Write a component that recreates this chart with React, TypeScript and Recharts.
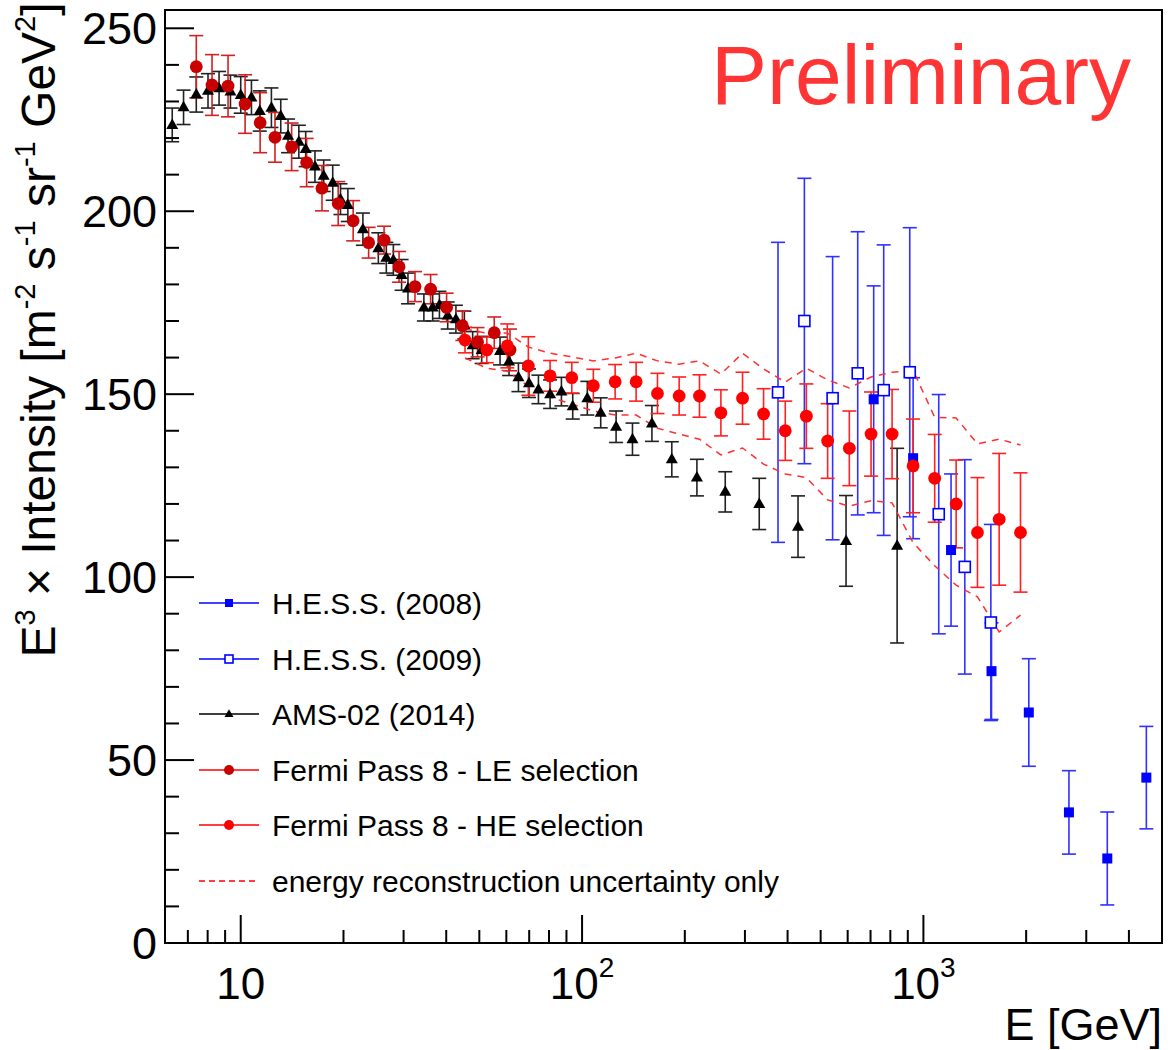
import React from 'react'
import { ComposedChart, Scatter, XAxis, YAxis, ErrorBar, ReferenceArea, Legend } from 'recharts'

/**
 * Electron + positron spectrum, E^3 x intensity vs energy (ROOT-style plot).
 * Log energy axis, inward ticks, framed plot area.
 */

const W = 1173
const H = 1050
const FONT = '"Liberation Sans", Arial, Helvetica, sans-serif'

// H.E.S.S. (2008) - filled squares
const hess08Energy = [715, 933, 1205, 1583, 2036, 2669, 3457, 4499]
const hess08Value = [148.6, 132.5, 107.4, 74.3, 63.0, 35.7, 23.1, 45.2]
const hess08Error = [31, 22, 20.8, 13.2, 14.7, 11.4, 12.7, 14]

// H.E.S.S. (2009) - open squares
const hess09Energy = [375, 448, 542, 642, 765, 912, 1109, 1322, 1576]
const hess09Value = [150.5, 170.0, 148.9, 155.7, 151.1, 156.0, 117.2, 102.8, 87.6]
const hess09Error = [41, 39, 38.7, 38.7, 39.7, 39.5, 32.7, 29.3, 26.8]

// AMS-02 (2014) - triangles
const amsEnergy = [
  6.3, 6.8, 7.41, 8.02, 8.64, 9.33, 10.0, 10.75, 11.37, 12.3, 13.1, 13.76, 14.8, 15.5, 16.5, 17.5,
  18.6, 19.6, 20.6, 22.8, 25.3, 26.7, 28.0, 29.6, 30.9, 34.4, 36.5, 38.2, 40.4, 42.7, 45.2, 47.8,
  50.8, 57.5, 61.1, 65.1, 69.9, 74.5, 80.6, 87.0, 93.9, 103.6, 113.4, 125.8, 140.5, 160.2, 183.2,
  217.0, 262.7, 330.4, 429.2, 593.4, 837.5,
]
const amsValue = [
  223.6, 228.4, 231.9, 232.9, 233.6, 232.7, 231.8, 231.1, 227.4, 228.3, 226.0, 220.6, 219.0, 217.0,
  212.2, 209.7, 207.8, 203.3, 201.7, 195.1, 189.9, 187.3, 186.7, 182.6, 178.9, 173.7, 173.7, 174.4,
  171.5, 170.5, 168.9, 163.4, 162.1, 161.8, 158.9, 154.6, 153.0, 151.3, 150.0, 150.7, 146.7, 148.9,
  144.9, 141.1, 137.7, 142.0, 132.2, 127.2, 123.3, 120.0, 113.8, 109.9, 108.6,
]
const amsError = [
  4.6, 4.7, 4.8, 4.7, 4.6, 4.5, 5.0, 4.7, 5.5, 5.4, 4.6, 4.6, 4.5, 4.8, 4.3, 4.3, 4.8, 4.2, 4.5,
  4.4, 4.2, 4.2, 4.2, 4.2, 4.2, 3.7, 3.7, 3.7, 3.7, 3.8, 3.8, 3.7, 3.7, 3.8, 3.8, 3.9, 3.9, 3.9,
  3.9, 3.9, 3.5, 4.6, 4.1, 4.3, 4.4, 4.9, 4.8, 5.0, 5.5, 7.0, 8.4, 12.4, 26.6,
]

// Fermi Pass 8 - LE selection
const leEnergy = [
  7.41, 8.24, 9.18, 10.3, 11.4, 12.6, 14.1, 15.6, 17.3, 19.3, 21.35, 23.7, 26.3, 29.1, 32.4, 36.0,
  40.1, 44.6, 49.4, 55.3, 61.5,
]
const leValue = [
  239.5, 234.5, 234.2, 229.3, 224.2, 220.2, 217.6, 213.3, 206.3, 202.1, 197.4, 191.4, 192.1, 184.8,
  179.4, 178.7, 173.7, 168.7, 164.2, 166.8, 162.1,
]
const leError = [
  8.5, 8.3, 8.4, 8.0, 8.2, 6.8, 6.5, 6.6, 6.2, 6.0, 5.5, 4.2, 3.8, 4.2, 4.1, 4.0, 3.9, 4.0, 4.0,
  4.3, 5.7,
]

// Fermi Pass 8 - HE selection
const heEnergy = [
  45.4, 52.6, 60.4, 69.6, 80.6, 93.3, 107.9, 125.0, 144.0, 166.3, 192.5, 220.8, 255.1, 295.2, 340.2,
  393.8, 454.0, 524.1, 606.7, 702.5, 809.5, 932.7, 1079, 1247, 1440, 1667, 1925,
]
const heValue = [
  164.8, 162.1, 163.2, 157.7, 155.0, 154.5, 152.3, 153.4, 153.4, 150.2, 149.5, 149.5, 144.9, 148.9,
  144.6, 140.0, 144.0, 137.2, 135.2, 139.1, 139.1, 130.4, 127.0, 120.0, 112.2, 115.8, 112.2,
]
const heError = [
  3.5, 3.5, 6.0, 8.0, 4.2, 4.2, 4.5, 4.7, 5.3, 5.5, 5.2, 5.8, 6.3, 7.1, 6.9, 8.1, 8.8, 10.2, 10.2,
  11.5, 12.2, 12.8, 12.0, 12.0, 15.0, 18.0, 16.3,
]

// energy reconstruction uncertainty band (on HE energies)
const bandUpper = [
  167.8, 166.7, 166.7, 162.9, 161.2, 160.2, 159.1, 159.9, 161.2, 159.1, 158.2, 159.1, 155.5, 161.2,
  156.9, 153.3, 157.1, 153.9, 151.7, 154.7, 156.0, 156.5, 143.7, 143.5, 136.4, 137.7, 136.1,
]
const bandLower = [
  159.9, 157.1, 156.3, 152.2, 149.2, 147.3, 145.4, 144.3, 144.3, 140.7, 139.1, 137.7, 133.4, 135.3,
  130.9, 128.2, 127.2, 121.1, 119.4, 120.9, 120.3, 109.4, 103.1, 97.8, 94.6, 85.0, 89.6,
]

const xTicks = [
  7, 8, 9, 10, 20, 30, 40, 50, 60, 70, 80, 90, 100, 200, 300, 400, 500, 600, 700, 800, 900, 1000,
  2000, 3000, 4000,
]
const xMajorLabels: Record<number, string> = { 10: '', 100: '2', 1000: '3' }
const yTicks = Array.from({ length: 26 }, (_, i) => i * 10)

const legendLabels = [
  'H.E.S.S. (2008)',
  'H.E.S.S. (2009)',
  'AMS-02 (2014)',
  'Fermi Pass 8 - LE selection',
  'Fermi Pass 8 - HE selection',
  'energy reconstruction uncertainty only',
]

const toPoints = (e: number[], v: number[], err?: number[]) =>
  e.map((x, i) => ({ e: x, v: v[i], err: err ? err[i] : 0 }))

const hess08 = toPoints(hess08Energy, hess08Value, hess08Error)
const hess09 = toPoints(hess09Energy, hess09Value, hess09Error)
const ams = toPoints(amsEnergy, amsValue, amsError)
const le = toPoints(leEnergy, leValue, leError)
const he = toPoints(heEnergy, heValue, heError)
const upper = toPoints(heEnergy, bandUpper)
const lower = toPoints(heEnergy, bandLower)

const BLUE = '#0000ff'
const DARKRED = '#c80000'
const RED = '#ff0000'

const FilledSquare = ({ cx, cy, s = 10 }: any) => (
  <rect x={cx - s / 2} y={cy - s / 2} width={s} height={s} fill={BLUE} />
)
const OpenSquare = ({ cx, cy, s = 11 }: any) => (
  <rect x={cx - s / 2} y={cy - s / 2} width={s} height={s} fill="#fff" stroke={BLUE} strokeWidth={1.6} />
)
const Triangle = ({ cx, cy, s = 1 }: any) => (
  <path
    d={`M${cx},${cy - 6.5 * s}L${cx - 6 * s},${cy + 4 * s}L${cx + 6 * s},${cy + 4 * s}Z`}
    fill="#000"
  />
)
const DotLE = ({ cx, cy, r = 6.4 }: any) => <circle cx={cx} cy={cy} r={r} fill={DARKRED} />
const DotHE = ({ cx, cy, r = 6.4 }: any) => <circle cx={cx} cy={cy} r={r} fill={RED} />
const Nothing = () => <g />

const XTick = ({ x, y, payload }: any) => {
  const v = payload.value
  const sup = xMajorLabels[v]
  const major = sup !== undefined
  return (
    <g>
      <line x1={x} x2={x} y1={y} y2={y - (major ? 28 : 13)} stroke="#000" strokeWidth={2} />
      {major && (
        <text x={x} y={y + 56} textAnchor="middle" fontSize={44} fontFamily={FONT} fill="#000">
          10
          {sup && (
            <tspan dy={-22} fontSize={28}>
              {sup}
            </tspan>
          )}
        </text>
      )}
    </g>
  )
}

const YTick = ({ x, y, payload }: any) => {
  const v = payload.value
  const major = v % 50 === 0
  return (
    <g>
      <line x1={x} x2={x + (major ? 29 : 14)} y1={y} y2={y} stroke="#000" strokeWidth={2} />
      {major && (
        <text x={x - 8} y={y} dy="0.36em" textAnchor="end" fontSize={45} fontFamily={FONT} fill="#000">
          {v}
        </text>
      )}
    </g>
  )
}

const legendRowY = [603, 659, 714, 770, 825, 881]

const LegendBox = () => (
  <svg width={W} height={H} style={{ position: 'absolute', left: 0, top: 0 }}>
    {legendLabels.map((label, i) => {
      const y = legendRowY[i]
      const lineColor = i < 2 ? BLUE : i === 2 ? '#000' : RED
      return (
        <g key={label}>
          {i < 5 ? (
            <line x1={199} x2={259} y1={y} y2={y} stroke={lineColor} strokeWidth={1.5} />
          ) : (
            <line x1={199} x2={259} y1={y} y2={y} stroke={RED} strokeWidth={1.5} strokeDasharray="6 4" />
          )}
          {i === 0 && <FilledSquare cx={229} cy={y} s={8} />}
          {i === 1 && <OpenSquare cx={229} cy={y} s={8} />}
          {i === 2 && <Triangle cx={229} cy={y} s={0.75} />}
          {i === 3 && <DotLE cx={229} cy={y} r={5} />}
          {i === 4 && <DotHE cx={229} cy={y} r={5} />}
          <text x={272} y={y} dy="0.36em" fontSize={30} fontFamily={FONT} fill="#000">
            {label}
          </text>
        </g>
      )
    })}
  </svg>
)

const Titles = () => (
  <svg
    width={W}
    height={H}
    style={{ position: 'absolute', left: 0, top: 0, pointerEvents: 'none' }}
    fontFamily={FONT}
  >
    <text transform="translate(55,330) rotate(-90)" textAnchor="middle" fontSize={48} fill="#000">
      E<tspan dy={-20} fontSize={29}>3</tspan>
      <tspan dy={20}> × Intensity [m</tspan>
      <tspan dy={-20} fontSize={29}>-2</tspan>
      <tspan dy={20}> s</tspan>
      <tspan dy={-20} fontSize={29}>-1</tspan>
      <tspan dy={20}> sr</tspan>
      <tspan dy={-20} fontSize={29}>-1</tspan>
      <tspan dy={20}> GeV</tspan>
      <tspan dy={-20} fontSize={29}>2</tspan>
      <tspan dy={20}>]</tspan>
    </text>
    <text x={1162} y={1040} textAnchor="end" fontSize={45} fill="#000">
      E [GeV]
    </text>
    <text x={711} y={104} fontSize={84} fill="#ff3535">
      Preliminary
    </text>
  </svg>
)

export default function App() {
  return (
    <div style={{ position: 'absolute', left: 0, top: 0, width: W, height: H, background: '#fff' }}>
      <ComposedChart width={W} height={H} margin={{ top: 10, right: 11, bottom: 0, left: 0 }}>
        <XAxis
          type="number"
          dataKey="e"
          scale="log"
          domain={[6, 5000]}
          allowDataOverflow
          ticks={xTicks}
          interval={0}
          tickSize={0}
          tickMargin={0}
          tick={<XTick />}
          height={107}
          axisLine={{ stroke: '#000', strokeWidth: 2 }}
          tickLine={false}
        />
        <YAxis
          type="number"
          dataKey="v"
          domain={[0, 255]}
          allowDataOverflow
          ticks={yTicks}
          interval={0}
          tickSize={0}
          tickMargin={0}
          tick={<YTick />}
          width={165}
          axisLine={{ stroke: '#000', strokeWidth: 2 }}
          tickLine={false}
        />
        <ReferenceArea x1={6} x2={5000} y1={0} y2={255} fill="none" stroke="#000" strokeWidth={2} />

        <Scatter
          data={upper}
          fill="none"
          line={{ stroke: '#ff3030', strokeWidth: 1.5, strokeDasharray: '7 6' }}
          shape={<Nothing />}
          isAnimationActive={false}
        />
        <Scatter
          data={lower}
          fill="none"
          line={{ stroke: '#ff3030', strokeWidth: 1.5, strokeDasharray: '7 6' }}
          shape={<Nothing />}
          isAnimationActive={false}
        />

        <Scatter data={hess08} fill={BLUE} shape={<FilledSquare />} isAnimationActive={false}>
          <ErrorBar dataKey="err" direction="y" width={7} stroke="#3030ff" strokeWidth={1.6} />
        </Scatter>
        <Scatter data={hess09} fill={BLUE} shape={<OpenSquare />} isAnimationActive={false}>
          <ErrorBar dataKey="err" direction="y" width={7} stroke="#3030ff" strokeWidth={1.6} />
        </Scatter>
        <Scatter data={ams} fill="#000" shape={<Triangle />} isAnimationActive={false}>
          <ErrorBar dataKey="err" direction="y" width={7} stroke="#222" strokeWidth={1.6} />
        </Scatter>
        <Scatter data={le} fill={DARKRED} shape={<DotLE />} isAnimationActive={false}>
          <ErrorBar dataKey="err" direction="y" width={7} stroke="#d42020" strokeWidth={1.6} />
        </Scatter>
        <Scatter data={he} fill={RED} shape={<DotHE />} isAnimationActive={false}>
          <ErrorBar dataKey="err" direction="y" width={7} stroke="#ff2020" strokeWidth={1.6} />
        </Scatter>

        <Legend
          layout="vertical"
          align="center"
          verticalAlign="middle"
          wrapperStyle={{ position: 'absolute', left: 0, top: 0, width: W, height: H, pointerEvents: 'none' }}
          content={<LegendBox />}
        />
      </ComposedChart>
      <Titles />
    </div>
  )
}
